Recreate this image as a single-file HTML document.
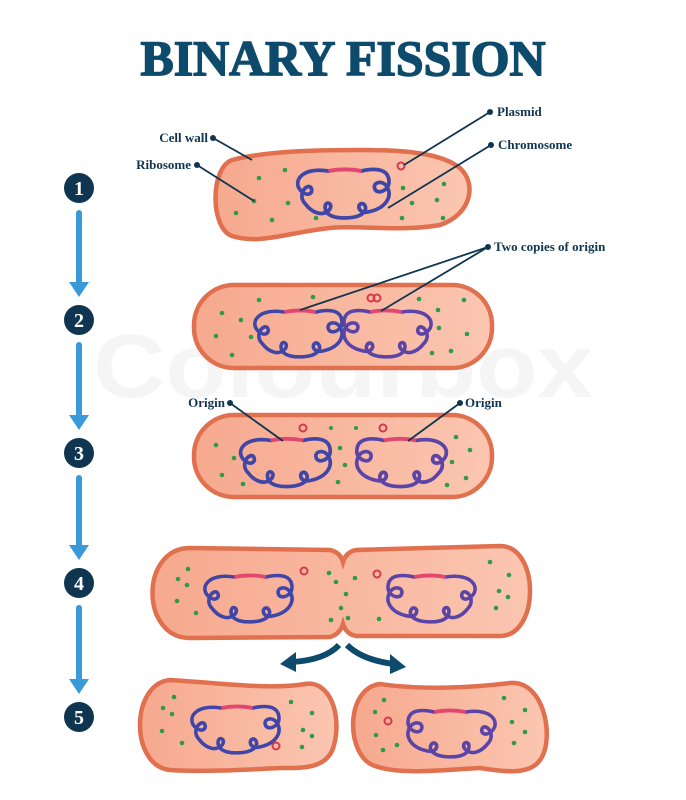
<!DOCTYPE html>
<html><head><meta charset="utf-8"><style>
html,body{margin:0;padding:0;background:#fff;}
svg{display:block;}
text{font-family:"Liberation Serif",serif;font-weight:bold;fill:#0f3550;}
</style></head><body>
<svg width="686" height="800" viewBox="0 0 686 800" xmlns="http://www.w3.org/2000/svg">
<defs>
<linearGradient id="cf" x1="0" x2="1" y1="0" y2="0">
<stop offset="0" stop-color="#f6a98e"/><stop offset="1" stop-color="#fbc6b1"/>
</linearGradient>
<g id="chr">
<path d="M -15,-20 C -40,-24 -48,-10 -40,-2 C -34,4 -28,0 -31,-5 C -35,-9 -44,2 -36,10 C -30,18 -20,22 -14,15 C -10,9 -19,6 -18,14 C -17,22 -5,24 8,22 C 18,20 21,14 17,10 C 11,7 10,20 22,17 C 36,14 44,4 38,-6 C 34,-12 25,-10 27,-4 C 29,2 40,-2 40,-10 C 40,-22 28,-23 15,-20" fill="none" stroke="#4046a8" stroke-width="3.4" stroke-linecap="round"/>
<path d="M -15,-20 C -5,-22 5,-22 15,-20" fill="none" stroke="#e2486f" stroke-width="3.6"/>
</g>
<g id="chrP">
<path d="M -15,-20 C -40,-24 -48,-10 -40,-2 C -34,4 -28,0 -31,-5 C -35,-9 -44,2 -36,10 C -30,18 -20,22 -14,15 C -10,9 -19,6 -18,14 C -17,22 -5,24 8,22 C 18,20 21,14 17,10 C 11,7 10,20 22,17 C 36,14 44,4 38,-6 C 34,-12 25,-10 27,-4 C 29,2 40,-2 40,-10 C 40,-22 28,-23 15,-20" fill="none" stroke="#5a44a8" stroke-width="3.4" stroke-linecap="round"/>
<path d="M -15,-20 C -5,-22 5,-22 15,-20" fill="none" stroke="#e2486f" stroke-width="3.6"/>
</g>
<g id="chrR">
<use href="#chrP" transform="scale(-1,1)"/>
</g>
</defs>

<text x="343" y="397" text-anchor="middle" font-size="90" style="fill:#f5f5f5;font-family:'Liberation Sans',sans-serif" textLength="500" lengthAdjust="spacingAndGlyphs" y="430">Colourbox</text>

<text x="343" y="75" text-anchor="middle" font-size="50" textLength="405" lengthAdjust="spacingAndGlyphs" style="fill:#0d4a6b;stroke:#0d4a6b;stroke-width:1.5">BINARY FISSION</text>

<!-- numbers + arrows -->
<g fill="#0f3550">
<circle cx="79" cy="188" r="15"/><circle cx="79" cy="320" r="15"/><circle cx="79" cy="453" r="15"/><circle cx="79" cy="583" r="15"/><circle cx="79" cy="717" r="15"/>
</g>
<g font-size="20" text-anchor="middle">
<text x="79" y="195" style="fill:#fff">1</text><text x="79" y="327" style="fill:#fff">2</text><text x="79" y="460" style="fill:#fff">3</text><text x="79" y="590" style="fill:#fff">4</text><text x="79" y="724" style="fill:#fff">5</text>
</g>
<g stroke="#3a9ad9" stroke-width="6" stroke-linecap="round">
<line x1="79" y1="213" x2="79" y2="285"/><line x1="79" y1="345" x2="79" y2="418"/><line x1="79" y1="478" x2="79" y2="548"/><line x1="79" y1="608" x2="79" y2="682"/>
</g>
<g fill="#3a9ad9">
<path d="M69,282 L89,282 L79,297 Z"/><path d="M69,415 L89,415 L79,430 Z"/><path d="M69,545 L89,545 L79,560 Z"/><path d="M69,679 L89,679 L79,694 Z"/>
</g>

<!-- cell 1 -->
<path d="M232,160 C270,150 330,150 360,150 C400,150 440,152 460,168 C478,185 470,215 440,225 C400,232 360,225 330,228 C290,232 260,245 232,236 C210,228 210,168 232,160 Z" fill="url(#cf)" stroke="#e0704e" stroke-width="4.5"/>
<use href="#chr" transform="translate(345,193) scale(1.1,1.1)"/>
<circle cx="401" cy="166" r="3.5" fill="none" stroke="#d33a4c" stroke-width="2"/>
<g fill="#2e9a4a">
<circle cx="259" cy="178" r="2.3"/><circle cx="285" cy="170" r="2.3"/><circle cx="254" cy="201" r="2.3"/><circle cx="288" cy="203" r="2.3"/><circle cx="236" cy="213" r="2.3"/><circle cx="272" cy="220" r="2.3"/><circle cx="316" cy="218" r="2.3"/><circle cx="403" cy="188" r="2.3"/><circle cx="444" cy="184" r="2.3"/><circle cx="412" cy="203" r="2.3"/><circle cx="437" cy="200" r="2.3"/><circle cx="402" cy="218" r="2.3"/><circle cx="443" cy="218" r="2.3"/>
</g>

<!-- cell 2 -->
<rect x="194" y="285" width="298" height="83" rx="40" fill="url(#cf)" stroke="#e0704e" stroke-width="4.5"/>
<use href="#chr" transform="translate(300,333) scale(1.05)"/>
<use href="#chrR" transform="translate(386,333) scale(1.05)"/>
<circle cx="371" cy="298" r="3.5" fill="none" stroke="#d33a4c" stroke-width="2"/><circle cx="377" cy="298" r="3.5" fill="none" stroke="#d33a4c" stroke-width="2"/>
<g fill="#2e9a4a">
<circle cx="222" cy="313" r="2.3"/><circle cx="241" cy="320" r="2.3"/><circle cx="216" cy="336" r="2.3"/><circle cx="251" cy="337" r="2.3"/><circle cx="232" cy="355" r="2.3"/><circle cx="259" cy="300" r="2.3"/><circle cx="313" cy="297" r="2.3"/><circle cx="419" cy="299" r="2.3"/><circle cx="464" cy="300" r="2.3"/><circle cx="438" cy="310" r="2.3"/><circle cx="439" cy="328" r="2.3"/><circle cx="467" cy="334" r="2.3"/><circle cx="432" cy="353" r="2.3"/><circle cx="451" cy="351" r="2.3"/>
</g>

<!-- cell 3 -->
<rect x="194" y="415" width="298" height="82" rx="40" fill="url(#cf)" stroke="#e0704e" stroke-width="4.5"/>
<use href="#chr" transform="translate(287,462) scale(1.08)"/>
<use href="#chrR" transform="translate(400,462) scale(1.08)"/>
<circle cx="303" cy="428" r="3.5" fill="none" stroke="#d33a4c" stroke-width="2"/><circle cx="383" cy="428" r="3.5" fill="none" stroke="#d33a4c" stroke-width="2"/>
<g fill="#2e9a4a">
<circle cx="331" cy="428" r="2"/><circle cx="356" cy="428" r="2"/><circle cx="216" cy="445" r="2.3"/><circle cx="234" cy="458" r="2.3"/><circle cx="222" cy="475" r="2.3"/><circle cx="243" cy="484" r="2.3"/><circle cx="340" cy="448" r="2.3"/><circle cx="345" cy="465" r="2.3"/><circle cx="338" cy="482" r="2.3"/><circle cx="456" cy="437" r="2.3"/><circle cx="470" cy="450" r="2.3"/><circle cx="452" cy="462" r="2.3"/><circle cx="466" cy="478" r="2.3"/><circle cx="447" cy="485" r="2.3"/>
</g>

<!-- cell 4 -->
<path d="M190,548 L330,550 Q340,552 343,562 Q346,552 356,550 L500,546 C540,546 540,636 500,636 L356,636 Q346,634 343,624 Q340,634 330,637 L190,638 C140,638 140,548 190,548 Z" fill="url(#cf)" stroke="#e0704e" stroke-width="4.5"/>
<use href="#chr" transform="translate(250,598) scale(1.05)"/>
<use href="#chrR" transform="translate(430,598) scale(1.05)"/>
<circle cx="304" cy="571" r="3.5" fill="none" stroke="#d33a4c" stroke-width="2"/><circle cx="377" cy="574" r="3.5" fill="none" stroke="#d33a4c" stroke-width="2"/>
<g fill="#2e9a4a">
<circle cx="188" cy="569" r="2.3"/><circle cx="178" cy="579" r="2.3"/><circle cx="187" cy="585" r="2.3"/><circle cx="177" cy="601" r="2.3"/><circle cx="196" cy="613" r="2.3"/><circle cx="329" cy="573" r="2.3"/><circle cx="336" cy="582" r="2.3"/><circle cx="355" cy="578" r="2.3"/><circle cx="346" cy="594" r="2.3"/><circle cx="341" cy="608" r="2.3"/><circle cx="331" cy="620" r="2.3"/><circle cx="348" cy="618" r="2.3"/><circle cx="379" cy="619" r="2.3"/><circle cx="490" cy="562" r="2.3"/><circle cx="509" cy="575" r="2.3"/><circle cx="499" cy="591" r="2.3"/><circle cx="508" cy="597" r="2.3"/><circle cx="496" cy="608" r="2.3"/>
</g>

<!-- split arrows -->
<path d="M339,645 Q325,660 292,662" fill="none" stroke="#0d4a6b" stroke-width="6"/>
<path d="M280,664 L296,652 L296,672 Z" fill="#0d4a6b"/>
<path d="M347,645 Q362,660 394,664" fill="none" stroke="#0d4a6b" stroke-width="6"/>
<path d="M406,667 L390,654 L390,674 Z" fill="#0d4a6b"/>

<!-- cell 5 left -->
<path d="M170,680 C220,683 270,690 305,684 C330,680 342,715 334,745 C328,770 300,768 280,768 C240,770 200,772 170,770 C130,766 130,684 170,680 Z" fill="url(#cf)" stroke="#e0704e" stroke-width="4.5"/>
<use href="#chr" transform="translate(237,729) scale(1.05)"/>
<circle cx="276" cy="746" r="3.5" fill="none" stroke="#d33a4c" stroke-width="2"/>
<g fill="#2e9a4a">
<circle cx="174" cy="697" r="2.3"/><circle cx="163" cy="708" r="2.3"/><circle cx="172" cy="714" r="2.3"/><circle cx="162" cy="731" r="2.3"/><circle cx="182" cy="743" r="2.3"/><circle cx="291" cy="702" r="2.3"/><circle cx="312" cy="713" r="2.3"/><circle cx="303" cy="730" r="2.3"/><circle cx="312" cy="736" r="2.3"/><circle cx="302" cy="747" r="2.3"/>
</g>

<!-- cell 5 right -->
<path d="M380,684 C420,690 470,688 510,683 C545,680 555,740 540,760 C530,775 505,772 480,768 C440,770 400,775 375,766 C345,756 345,688 380,684 Z" fill="url(#cf)" stroke="#e0704e" stroke-width="4.5"/>
<use href="#chrR" transform="translate(450,733) scale(1.05)"/>
<circle cx="388" cy="721" r="3.5" fill="none" stroke="#d33a4c" stroke-width="2"/>
<g fill="#2e9a4a">
<circle cx="384" cy="700" r="2.3"/><circle cx="375" cy="712" r="2.3"/><circle cx="376" cy="735" r="2.3"/><circle cx="383" cy="750" r="2.3"/><circle cx="397" cy="745" r="2.3"/><circle cx="504" cy="698" r="2.3"/><circle cx="525" cy="710" r="2.3"/><circle cx="512" cy="722" r="2.3"/><circle cx="525" cy="732" r="2.3"/><circle cx="514" cy="743" r="2.3"/>
</g>

<!-- label lines -->
<g stroke="#0f3550" stroke-width="1.8" fill="none">
<line x1="213" y1="138" x2="252" y2="160"/>
<line x1="197" y1="165" x2="254" y2="201"/>
<line x1="490" y1="112" x2="404" y2="165"/>
<line x1="491" y1="145" x2="388" y2="208"/>
<line x1="488" y1="247" x2="300" y2="310"/>
<line x1="488" y1="247" x2="381" y2="311"/>
<line x1="230" y1="403" x2="283" y2="441"/>
<line x1="460" y1="403" x2="408" y2="441"/>
</g>
<g fill="#0f3550">
<circle cx="213" cy="138" r="3"/><circle cx="197" cy="165" r="3"/><circle cx="490" cy="112" r="3"/><circle cx="491" cy="145" r="3"/><circle cx="488" cy="247" r="3"/><circle cx="230" cy="403" r="3"/><circle cx="460" cy="403" r="3"/>
</g>
<g font-size="13">
<text x="208" y="142" text-anchor="end">Cell wall</text>
<text x="191" y="169" text-anchor="end">Ribosome</text>
<text x="497" y="116">Plasmid</text>
<text x="498" y="149">Chromosome</text>
<text x="494" y="251">Two copies of origin</text>
<text x="225" y="407" text-anchor="end">Origin</text>
<text x="465" y="407">Origin</text>
</g>
</svg>
</body></html>
